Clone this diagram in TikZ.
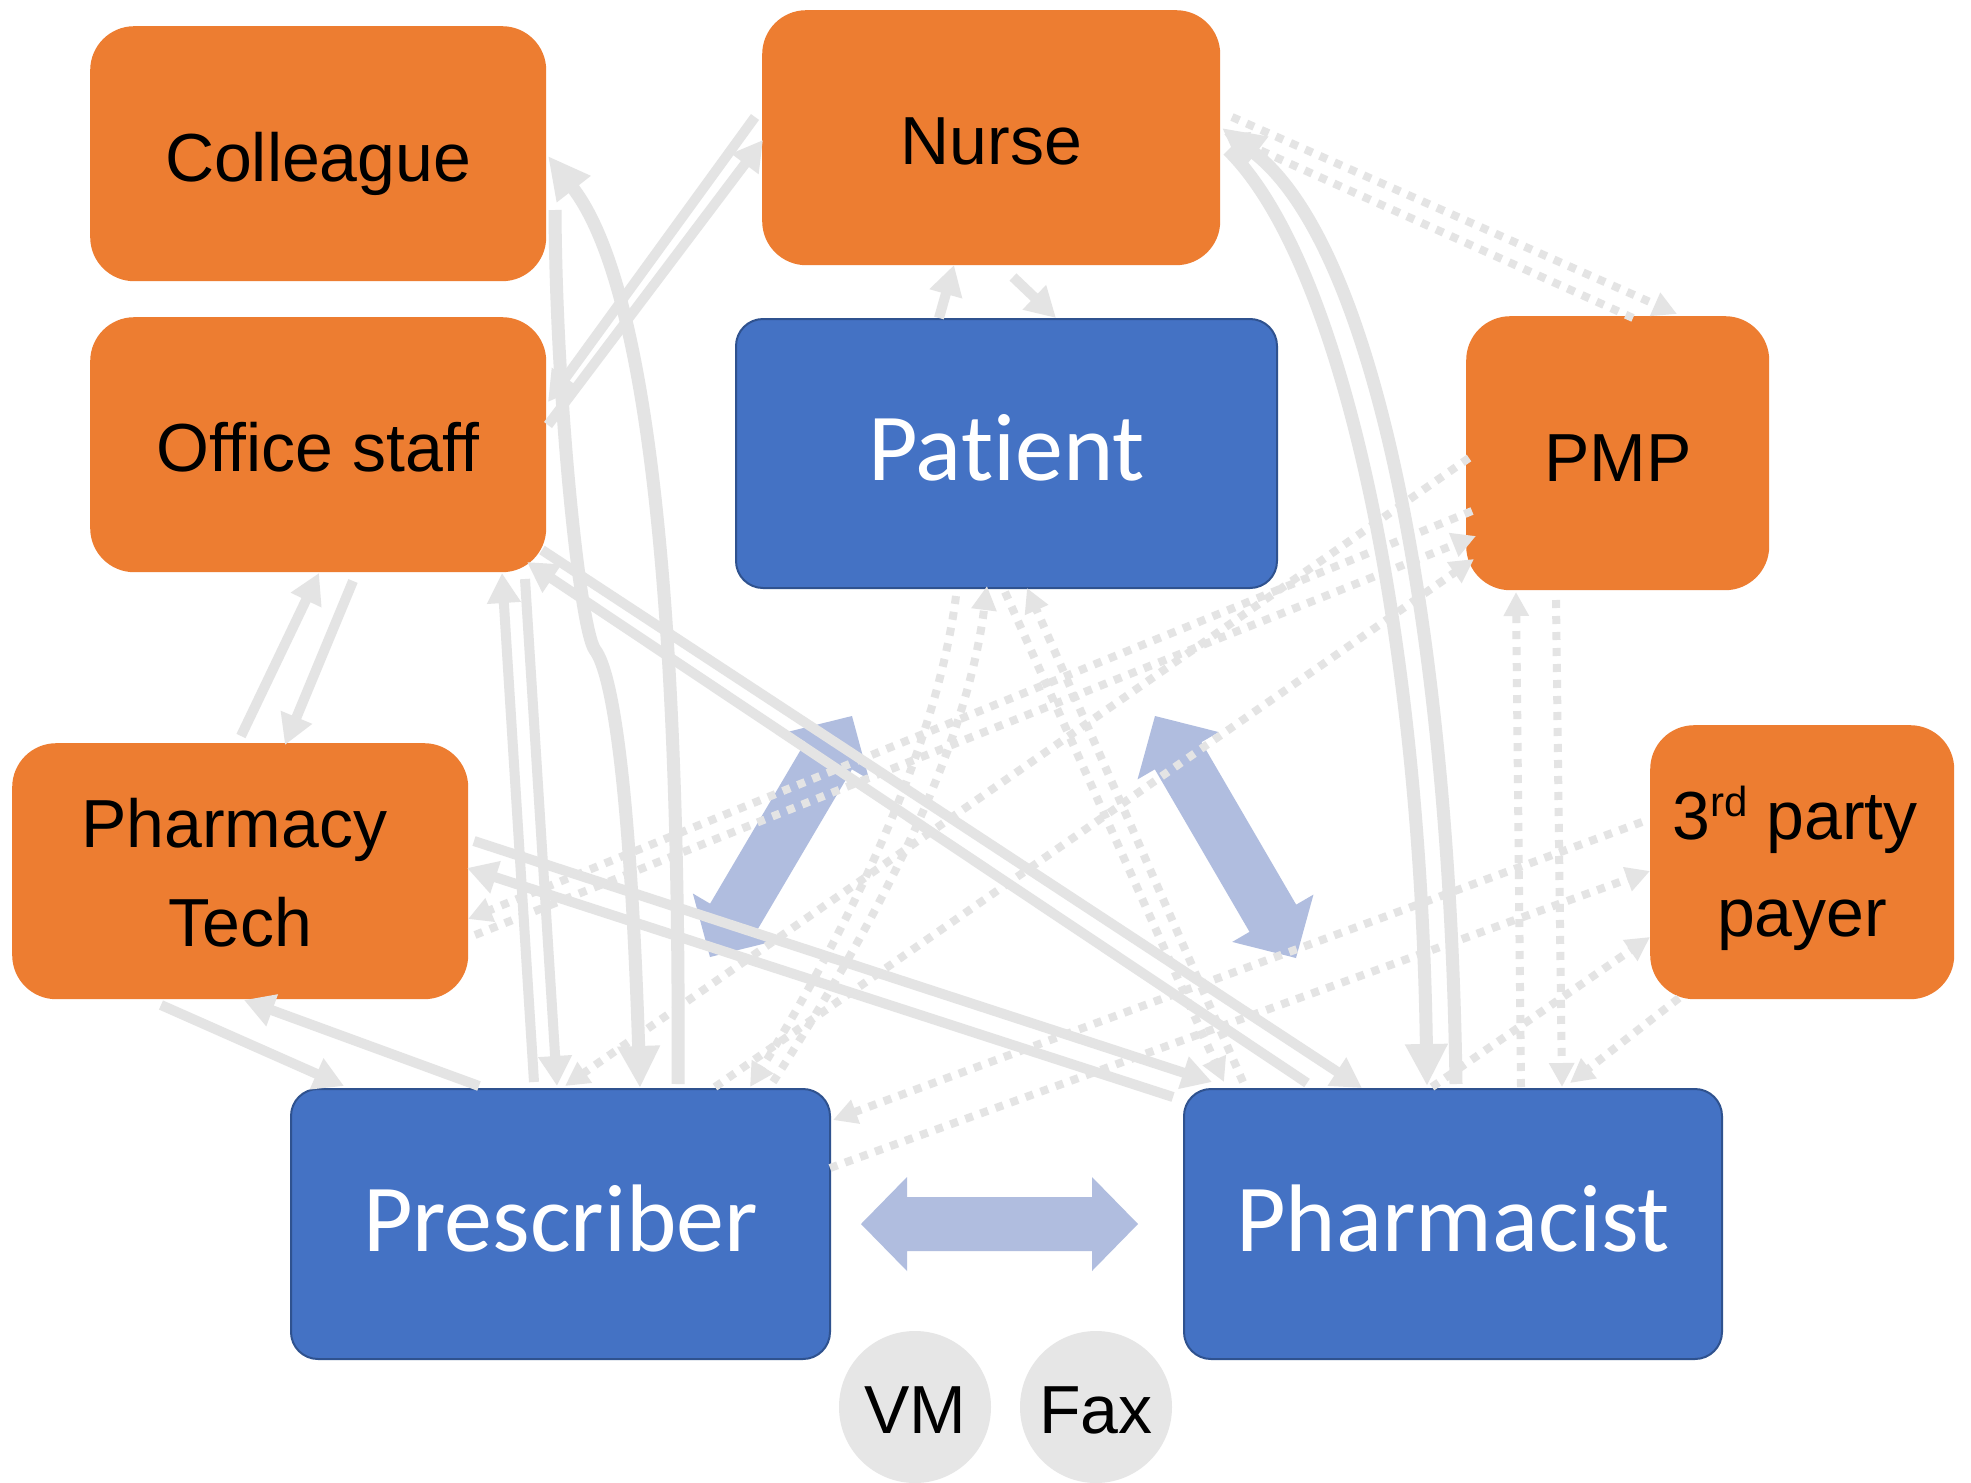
\documentclass[tikz,border=0pt]{standalone}
\usepackage{fontspec}
\usetikzlibrary{arrows.meta,calc}
\newfontfamily\arialf{Liberation Sans}
\newfontfamily\calibf{Carlito}[Ligatures=NoCommon]
\definecolor{orng}{HTML}{ED7D31}
\definecolor{bblue}{HTML}{4472C4}
\definecolor{bborder}{HTML}{2F528F}
\definecolor{lgray}{HTML}{E4E4E4}
\definecolor{cgray}{HTML}{E6E6E6}
\definecolor{barrow}{HTML}{B0BDDF}
\newcommand\tx[2]{\makebox[0pt]{\raisebox{#1}[0pt][0pt]{#2}}}
\newcommand\dblarrow[2]{%
 \fill[barrow] (#1) -- ($(#1)!46pt!(#2)!47pt!90:(#2)$) -- ($(#1)!46pt!(#2)!27pt!90:(#2)$)
 -- ($(#2)!46pt!(#1)!27pt!-90:(#1)$) -- ($(#2)!46pt!(#1)!47pt!-90:(#1)$) -- (#2)
 -- ($(#2)!46pt!(#1)!47pt!90:(#1)$) -- ($(#2)!46pt!(#1)!27pt!90:(#1)$)
 -- ($(#1)!46pt!(#2)!27pt!-90:(#2)$) -- ($(#1)!46pt!(#2)!47pt!-90:(#2)$) -- cycle;}
\begin{document}
\begin{tikzpicture}[x=1pt,y=-1pt,
 obox/.style={rectangle, rounded corners=44pt, fill=orng, text=black,
   font={\arialf\fontsize{68}{98}\selectfont}, inner sep=0pt, anchor=north west},
 bbox/.style={rectangle, rounded corners=27pt, fill=bblue, draw=bborder, line width=2pt, text=white,
   font={\calibf\fontsize{96}{110}\selectfont}, inner sep=0pt, anchor=north west},
 circ/.style={circle, fill=cgray, minimum size=152pt, inner sep=0pt, text=black,
   font={\arialf\fontsize{68}{80}\selectfont}},
 sol/.style={draw=lgray, line width=10pt, -{Triangle[width=32pt,length=30pt]}},
 solc/.style={draw=lgray, line width=13pt, -{Triangle[width=40pt,length=42pt]}},
 dot/.style={draw=lgray, line width=8pt, dash pattern=on 8pt off 8pt, -{Triangle[width=24pt,length=24pt]}}]
\useasboundingbox (0,0) rectangle (1971,1483);
\fill[white] (0,0) rectangle (1971,1483);

% nodes
\node[obox, minimum width=456pt, minimum height=255pt] (colleague) at (90,26) {\tx{-27.5pt}{Colleague}};
\node[obox, minimum width=458pt, minimum height=255pt] (nurse) at (762,10) {\tx{-26.5pt}{Nurse}};
\node[obox, minimum width=456pt, minimum height=255pt] (office) at (90,317) {\tx{-27pt}{Office staff}};
\node[bbox, minimum width=541pt, minimum height=269pt] (patient) at (735,318) {\tx{-27pt}{Patient}};
\node[obox, minimum width=303pt, minimum height=274pt] (pmp) at (1466,316) {\tx{-28pt}{PMP}};
\node[obox, minimum width=456pt, minimum height=256pt] (tech) at (12,743)
  {\tx{23.3pt}{Pharmacy\kern12pt}\tx{-75pt}{Tech}};
\node[obox, minimum width=304pt, minimum height=274pt] (payer) at (1650,725)
  {\tx{23pt}{3\raisebox{23pt}{\fontsize{42}{42}\selectfont rd} party\kern14pt}\tx{-74.5pt}{payer}};
\node[bbox, minimum width=539pt, minimum height=270pt] (prescriber) at (290,1088) {\tx{-27.7pt}{Prescriber}};
\node[bbox, minimum width=538pt, minimum height=270pt] (pharmacist) at (1183,1088) {\tx{-27.7pt}{Pharmacist}};
\node[circ] (vm) at (915,1407) {\tx{-26pt}{VM}};
\node[circ] (fax) at (1096,1407) {\tx{-26pt}{Fax}};

% blue double arrows
\coordinate (h1) at ([shift={(30,0)}]prescriber.east);
\coordinate (h2) at ([shift={(-45,0)}]pharmacist.west);
\coordinate (d1a) at ([shift={(420,-131)}]prescriber.north west);
\coordinate (d1b) at ([shift={(117,398)}]patient.north west);
\coordinate (d2a) at ([shift={(420,398)}]patient.north west);
\coordinate (d2b) at ([shift={(113,-130)}]pharmacist.north west);
\dblarrow{h1}{h2}
\dblarrow{d1a}{d1b}
\dblarrow{d2a}{d2b}

% dotted connectors
\draw[dot] ([shift={(470,107)}]nurse.north west) -- ([shift={(211,-2)}]pmp.north west);
\draw[dot] ([shift={(167,2)}]pmp.north west) -- ([shift={(462,124)}]nurse.north west);
\draw[dot] ([shift={(6,195)}]pmp.north west) -- ([shift={(456,176)}]tech.north west);
\draw[dot] ([shift={(463,192)}]tech.north west) -- ([shift={(10,220)}]pmp.north west);
\draw[dot] ([shift={(3,142)}]pmp.north west) -- ([shift={(275,-2)}]prescriber.north west);
\draw[dot] ([shift={(425,-1)}]prescriber.north west) -- ([shift={(8,243)}]pmp.north west);
\draw[dot] ([shift={(-8,97)}]payer.north west) -- ([shift={(543,32)}]prescriber.north west);
\draw[dot] ([shift={(540,80)}]prescriber.north west) -- ([shift={(0,146)}]payer.north west);
\draw[dot] ([shift={(249,-1)}]pharmacist.north west) -- ([shift={(0,212)}]payer.north west);
\draw[dot] ([shift={(29,273)}]payer.north west) -- ([shift={(387,-5)}]pharmacist.north west);
\draw[dot] ([shift={(338,-1)}]pharmacist.north west) -- ([shift={(50,276)}]pmp.north west);
\draw[dot] ([shift={(90,284)}]pmp.north west) -- ([shift={(379,-1)}]pharmacist.north west);
\draw[dot] ([shift={(270,274)}]patient.north west) -- ([shift={(41,-6)}]pharmacist.north west);
\draw[dot] ([shift={(60,-6)}]pharmacist.north west) -- ([shift={(292,270)}]patient.north west);
\draw[dot] ([shift={(221,278)}]patient.north west) .. controls (935,760) and (835,950) .. ([shift={(460,-1)}]prescriber.north west);
\draw[dot] ([shift={(483,-6)}]prescriber.north west) .. controls (865,940) and (965,760) .. ([shift={(252,268)}]patient.north west);

% solid connectors
\draw[sol] ([shift={(-7,107)}]nurse.north west) -- ([shift={(458,85)}]office.north west);
\draw[sol] ([shift={(458,108)}]office.north west) -- ([shift={(1,130)}]nurse.north west);
\draw[sol] ([shift={(204,0)}]patient.north west) -- ([shift={(192,255)}]nurse.north west);
\draw[sol] ([shift={(251,267)}]nurse.north west) -- ([shift={(321,0)}]patient.north west);
\draw[sol] ([shift={(229,-7)}]tech.north west) -- ([shift={(229,256)}]office.north west);
\draw[sol] ([shift={(263,264)}]office.north west) -- ([shift={(273,2)}]tech.north west);
\draw[sol] ([shift={(244,-6)}]prescriber.north west) -- ([shift={(412,256)}]office.north west);
\draw[sol] ([shift={(435,262)}]office.north west) -- ([shift={(267,-2)}]prescriber.north west);
\draw[sol] ([shift={(452,233)}]office.north west) -- ([shift={(179,0)}]pharmacist.north west);
\draw[sol] ([shift={(124,-5)}]pharmacist.north west) -- ([shift={(437,245)}]office.north west);
\draw[sol] ([shift={(462,98)}]tech.north west) -- ([shift={(29,-6)}]pharmacist.north west);
\draw[sol] ([shift={(-10,9)}]pharmacist.north west) -- ([shift={(455,125)}]tech.north west);
\draw[sol] ([shift={(149,262)}]tech.north west) -- ([shift={(54,-2)}]prescriber.north west);
\draw[sol] ([shift={(189,-2)}]prescriber.north west) -- ([shift={(232,257)}]tech.north west);

% curved solid connectors
\draw[solc] ([shift={(465,184)}]colleague.north west) .. controls (556,400) and (580,630) .. (595,650)
  .. controls (612,672) and (630,780) .. ([shift={(350,0)}]prescriber.north west);
\draw[solc] ([shift={(388,-4)}]prescriber.north west) .. controls (680,700) and (660,300) .. ([shift={(458,130)}]colleague.north west);
\draw[solc] ([shift={(273,-4)}]pharmacist.north west) .. controls (1450,650) and (1380,250) .. ([shift={(460,118)}]nurse.north west);
\draw[solc] ([shift={(466,140)}]nurse.north west) .. controls (1340,260) and (1420,620) .. ([shift={(244,-2)}]pharmacist.north west);
\end{tikzpicture}
\end{document}
